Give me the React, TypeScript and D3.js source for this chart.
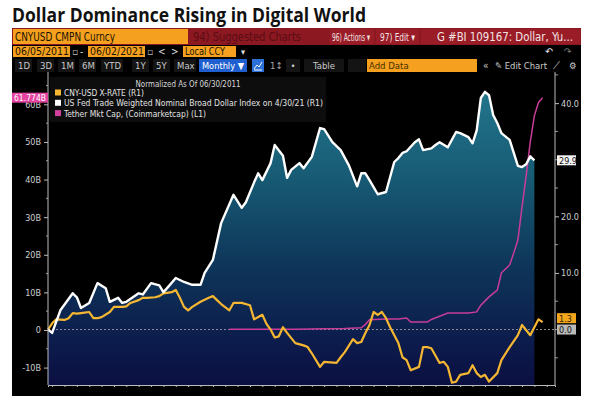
import React, { useRef, useEffect } from "react";
import * as d3 from "d3";

// US Fed trade weighted broad dollar index, % change since 06/30/2011 (R1)
const usdDates = [
  "2011-06", "2011-07", "2011-09", "2011-12", "2012-01", "2012-02", "2012-04", "2012-06",
  "2012-08", "2012-09", "2012-11", "2012-12", "2013-01", "2013-04", "2013-05", "2013-07",
  "2013-09", "2013-10", "2013-11", "2014-01", "2014-03", "2014-05", "2014-07", "2014-08",
  "2014-10", "2014-12", "2015-03", "2015-05", "2015-06", "2015-08", "2015-09", "2015-10",
  "2015-12", "2016-01", "2016-03", "2016-04", "2016-05", "2016-07", "2016-08", "2016-10",
  "2016-12", "2017-01", "2017-03", "2017-05", "2017-07", "2017-09", "2017-10", "2017-11",
  "2017-12", "2018-02", "2018-04", "2018-06", "2018-07", "2018-08", "2018-09", "2018-11",
  "2018-12", "2019-01", "2019-03", "2019-04", "2019-05", "2019-07", "2019-09", "2019-10",
  "2019-12", "2020-01", "2020-02", "2020-03", "2020-04", "2020-05", "2020-06", "2020-07",
  "2020-08", "2020-10", "2020-11", "2020-12", "2021-01", "2021-02", "2021-03", "2021-04",
];
const usdValues = [
  0.0, -0.6, 3.4, 6.4, 5.7, 3.8, 4.7, 8.2,
  7.3, 4.9, 5.6, 4.7, 4.9, 6.4, 6.2, 8.2,
  7.8, 6.6, 7.4, 9.1, 8.4, 7.9, 7.9, 10.0,
  12.3, 18.8, 23.8, 21.5, 22.5, 26.0, 27.6, 26.4,
  29.4, 32.6, 30.7, 26.8, 28.2, 29.4, 28.5, 30.5,
  35.6, 35.4, 33.1, 31.7, 29.0, 25.3, 27.6, 27.6,
  26.4, 23.9, 24.3, 29.6, 30.3, 31.2, 31.5, 33.1,
  33.6, 31.7, 32.0, 32.6, 33.1, 32.2, 34.9, 34.7,
  34.0, 32.9, 35.2, 40.9, 42.0, 41.4, 37.9, 36.5,
  34.7, 33.5, 31.2, 28.9, 28.7, 29.2, 30.6, 29.9,
];

// CNY-USD x-rate, % change since 06/30/2011 (R1)
const cnyDates = [
  "2011-06", "2011-07", "2011-08", "2011-10", "2011-11", "2011-12", "2012-01", "2012-02",
  "2012-04", "2012-05", "2012-06", "2012-07", "2012-09", "2012-10", "2012-12", "2013-01",
  "2013-02", "2013-04", "2013-05", "2013-06", "2013-08", "2013-09", "2013-10", "2013-12",
  "2014-01", "2014-02", "2014-03", "2014-04", "2014-05", "2014-07", "2014-09", "2014-10",
  "2014-11", "2014-12", "2015-02", "2015-03", "2015-05", "2015-07", "2015-08", "2015-09",
  "2015-10", "2015-11", "2015-12", "2016-01", "2016-02", "2016-03", "2016-04", "2016-06",
  "2016-08", "2016-09", "2016-10", "2016-12", "2017-01", "2017-04", "2017-05", "2017-06",
  "2017-08", "2017-09", "2017-10", "2017-11", "2017-12", "2018-01", "2018-02", "2018-03",
  "2018-04", "2018-05", "2018-07", "2018-08", "2018-09", "2018-10", "2018-12", "2019-01",
  "2019-02", "2019-03", "2019-05", "2019-06", "2019-07", "2019-08", "2019-09", "2019-10",
  "2019-12", "2020-01", "2020-02", "2020-03", "2020-04", "2020-05", "2020-07", "2020-08",
  "2020-10", "2020-12", "2021-01", "2021-03", "2021-04", "2021-05", "2021-06",
];
const cnyValues = [
  0.0, 1.1, 1.8, 1.7, 2.0, 2.9, 2.8, 2.9,
  3.1, 2.0, 2.0, 2.2, 3.1, 4.0, 4.0, 4.1,
  4.7, 5.2, 5.6, 5.6, 5.7, 5.9, 6.4, 6.6,
  7.0, 5.6, 4.0, 3.4, 4.0, 4.9, 5.6, 5.9,
  5.2, 4.5, 3.4, 4.7, 4.7, 4.3, 1.8, 2.2,
  2.6, 1.0, 0.0, -1.4, -1.2, 0.4, -0.6, -2.4,
  -2.8, -3.1, -4.2, -6.6, -5.7, -5.9, -4.9, -4.0,
  -1.7, -2.4, -2.2, -0.6, 0.8, 3.1, 2.6, 3.1,
  2.0, 0.4, -2.4, -4.9, -5.4, -7.2, -6.6, -3.1,
  -3.1, -3.3, -5.9, -5.7, -6.6, -9.4, -9.2, -8.0,
  -7.7, -6.3, -7.7, -8.4, -8.0, -9.2, -7.7, -5.4,
  -3.1, -1.0, 0.8, -1.0, 0.4, 1.8, 1.3,
];

// Tether market cap, billions USD (L1)
const tetherDates = [
  "2015-02", "2015-10", "2016-06", "2017-01", "2017-06", "2017-10", "2017-11", "2017-12",
  "2018-04", "2018-07", "2018-09", "2018-10", "2019-02", "2019-03", "2019-07", "2019-12",
  "2020-02", "2020-03", "2020-05", "2020-07", "2020-08", "2020-10", "2020-11", "2020-12",
  "2021-01", "2021-02", "2021-03", "2021-04", "2021-05", "2021-06",
];
const tetherValues = [
  0.2, 0.2, 0.2, 0.3, 0.4, 0.6, 1.5, 2.7,
  2.9, 2.9, 3.2, 2.1, 2.1, 2.8, 4.5, 4.5,
  4.8, 6.6, 8.8, 10.6, 15.2, 17.3, 20.5, 24.0,
  32.7, 41.0, 50.0, 57.0, 60.5, 61.774,
];

const leftTicks = [-10, 0, 10, 20, 30, 40, 50, 60];
const rightTicks = [10, 20, 40];
const legendLabels = [
  "CNY-USD X-RATE (R1)",
  "US Fed Trade Weighted Nominal Broad Dollar Index on 4/30/21 (R1)",
  "Tether Mkt Cap, (Coinmarketcap) (L1)",
];
const legendColors = ["#f5b731", "#ffffff", "#d2409e"];
const periodButtons = ["1D", "3D", "1M", "6M", "YTD", "1Y", "5Y", "Max"];

const monthIndex = (s: string) => {
  const [y, m] = s.split("-").map(Number);
  return (y - 2011) * 12 + (m - 6);
};

const width = 600;
const height = 396;
const UI = "'DejaVu Sans Condensed', 'Liberation Sans Narrow', 'Roboto', sans-serif";

const App = () => {
  const chartRef = useRef<HTMLDivElement>(null);

  useEffect(() => {
    const root = d3.select(chartRef.current);
    root.selectAll("*").remove();
    const svg = root
      .append("svg")
      .attr("width", width)
      .attr("height", height)
      .style("display", "block")
      .style("background", "#fff");

    // title
    svg
      .append("text")
      .attr("x", 12)
      .attr("y", 22)
      .attr("font-family", "'Open Sans', sans-serif")
      .attr("font-weight", 700)
      .attr("font-size", 19)
      .attr("textLength", 354)
      .attr("lengthAdjust", "spacingAndGlyphs")
      .attr("fill", "#111")
      .text("Dollar Dominance Rising in Digital World");

    // terminal panel
    svg.append("rect").attr("x", 12).attr("y", 28).attr("width", 569).attr("height", 368).attr("fill", "#000");

    const txt = (x: number, y: number, s: string, size: number, fill: string, len?: number, anchor = "start") => {
      const t = svg
        .append("text")
        .attr("x", x)
        .attr("y", y)
        .attr("font-family", UI)
        .attr("font-size", size)
        .attr("fill", fill)
        .attr("text-anchor", anchor)
        .text(s);
      if (len) t.attr("textLength", len).attr("lengthAdjust", "spacingAndGlyphs");
      return t;
    };
    const box = (x: number, y: number, w: number, h: number, fill: string) =>
      svg.append("rect").attr("x", x).attr("y", y).attr("width", w).attr("height", h).attr("fill", fill);

    // red header bar
    box(12, 28, 569, 17, "#8c1821");
    box(13, 29, 175, 15, "#f5a11f");
    txt(15, 41, "CNYUSD CMPN Curncy", 12, "#1b1200", 100);
    txt(193, 41, "94) Suggested Charts", 12, "#5a0d14", 108);
    box(330, 29, 44, 15, "#9a1c27");
    box(376, 29, 43, 15, "#9a1c27");
    box(421, 29, 159, 15, "#9a1c27");
    txt(332, 41, "96) Actions ▾", 11, "#f3e4e4", 38);
    txt(380, 41, "97) Edit ▾", 11, "#f3e4e4", 35);
    txt(437, 41, "G #BI 109167: Dollar, Yu...", 12, "#f3e4e4", 136);

    // date row
    box(13, 46, 57, 11, "#f5a11f");
    txt(15, 55, "06/05/2011", 11, "#1b1200", 54);
    txt(72, 55, "▫", 10, "#bbb");
    txt(80, 55, "-", 10, "#ddd");
    box(88, 46, 57, 11, "#f5a11f");
    txt(90, 55, "06/02/2021", 11, "#1b1200", 54);
    txt(147, 55, "▫", 10, "#bbb");
    txt(158, 55, "<", 10, "#ddd");
    txt(171, 55, ">", 10, "#ddd");
    box(183, 46, 53, 11, "#f5a11f");
    txt(185, 55, "Local CCY", 11, "#1b1200", 40);
    txt(241, 55, "▾", 9, "#ddd");
    txt(545, 55, "↶", 10, "#eee");
    txt(564, 55, "↷", 10, "#777");

    // toolbar row
    const btnX = [18, 40, 61, 82, 104, 135, 156, 177];
    periodButtons.forEach((b, i) => {
      box(btnX[i] - 3, 59, b.length > 2 ? 22 : 17, 13, "#141414");
      txt(btnX[i], 69, b, 9.5, "#c9c9c9");
    });
    box(199, 59, 48, 13, "#1f5fcf");
    txt(202, 69, "Monthly ▼", 9.5, "#fff", 42);
    box(252, 59, 12, 13, "#2b6fd8");
    svg
      .append("path")
      .attr("d", "M254,69 L257,65 L259,67 L262,62 M254,70 L262,70")
      .attr("fill", "none")
      .attr("stroke", "#fff")
      .attr("stroke-width", 1);
    txt(270, 69, "1↕", 9.5, "#aaa");
    box(286, 59, 14, 13, "#141414");
    txt(293, 69, "•", 9.5, "#ccc", undefined, "middle");
    box(304, 59, 40, 13, "#141414");
    txt(313, 69, "Table", 9.5, "#c9c9c9");
    box(348, 59, 18, 13, "#141414");
    box(367, 59, 110, 13, "#f5a11f");
    txt(369, 69, "Add Data", 9.5, "#4a3000");
    txt(483, 69, "«", 10, "#ccc");
    txt(495, 69, "✎ Edit Chart", 9.5, "#ccc", 52);
    txt(553, 69, "⟋", 9.5, "#ccc");
    txt(569, 69, "⚙", 9.5, "#ccc");

    // scales
    const x = d3.scaleLinear().domain([0, 123]).range([48, 555]);
    const yL = d3.scaleLinear().domain([-14.63, 68.6]).range([385, 72]);
    const yR = d3.scaleLinear().domain([-9.8, 45.5]).range([385, 72]);

    const usd = usdDates.map((d, i) => ({ m: monthIndex(d), v: usdValues[i] }));
    const cny = cnyDates.map((d, i) => ({ m: monthIndex(d), v: cnyValues[i] }));
    const tether = tetherDates.map((d, i) => ({ m: monthIndex(d), v: tetherValues[i] }));

    const defs = svg.append("defs");
    const grad = defs
      .append("linearGradient")
      .attr("id", "usdFill")
      .attr("gradientUnits", "userSpaceOnUse")
      .attr("x1", 0)
      .attr("x2", 0)
      .attr("y1", 90)
      .attr("y2", 385);
    [
      [0, "#22768c"],
      [0.3, "#175a74"],
      [0.6, "#0e3559"],
      [0.85, "#0c1c4c"],
      [1, "#0b0f42"],
    ].forEach(([o, c]) => grad.append("stop").attr("offset", o as number).attr("stop-color", c as string));

    // legend background
    box(50, 77, 276, 45, "#0d0d0d");

    // area under the dollar index
    const area = d3
      .area<{ m: number; v: number }>()
      .x((d) => x(d.m))
      .y0(385)
      .y1((d) => yR(d.v));
    svg.append("path").datum(usd).attr("d", area).attr("fill", "url(#usdFill)");

    // zero line
    svg
      .append("line")
      .attr("x1", 48)
      .attr("x2", 557)
      .attr("y1", yR(0))
      .attr("y2", yR(0))
      .attr("stroke", "#8c8c9a")
      .attr("stroke-width", 1)
      .attr("stroke-dasharray", "2,2");

    const line = d3
      .line<{ m: number; v: number }>()
      .x((d) => x(d.m))
      .y((d) => yR(d.v));
    const lineL = d3
      .line<{ m: number; v: number }>()
      .x((d) => x(d.m))
      .y((d) => yL(d.v));

    svg.append("path").datum(tether).attr("d", lineL).attr("fill", "none").attr("stroke", "#c93c9a").attr("stroke-width", 1.5);
    svg.append("path").datum(cny).attr("d", line).attr("fill", "none").attr("stroke", legendColors[0]).attr("stroke-width", 2.2).attr("stroke-linejoin", "round");
    svg.append("path").datum(usd).attr("d", line).attr("fill", "none").attr("stroke", legendColors[1]).attr("stroke-width", 2.4).attr("stroke-linejoin", "round");

    // left axis
    const leftAxis = d3
      .axisLeft(yL)
      .tickValues(leftTicks)
      .tickSize(4)
      .tickFormat((d) => (+d === 0 ? "0" : `${d}B`));
    const gL = svg.append("g").attr("transform", "translate(48,0)").call(leftAxis);
    gL.select(".domain").remove();
    gL.selectAll("line").attr("stroke", "#bbb");
    gL.selectAll("text").attr("fill", "#cfcfcf").attr("font-family", UI).attr("font-size", 9);
    svg
      .append("g")
      .selectAll("line")
      .data(d3.range(-5, 66, 10))
      .join("line")
      .attr("x1", 46)
      .attr("x2", 48)
      .attr("y1", (d) => yL(d))
      .attr("y2", (d) => yL(d))
      .attr("stroke", "#999");
    svg.append("line").attr("x1", 48).attr("x2", 48).attr("y1", 72).attr("y2", 385).attr("stroke", "#bbb");

    // right axis
    const rightAxis = d3
      .axisRight(yR)
      .tickValues(rightTicks)
      .tickSize(4)
      .tickFormat((d) => d3.format(".1f")(+d));
    const gR = svg.append("g").attr("transform", "translate(555,0)").call(rightAxis);
    gR.select(".domain").remove();
    gR.selectAll("line").attr("stroke", "#bbb");
    gR.selectAll("text").attr("fill", "#cfcfcf").attr("font-family", UI).attr("font-size", 9).attr("x", 6);
    svg
      .append("g")
      .selectAll("line")
      .data([-5, 0, 5, 15, 25, 30, 35, 45])
      .join("line")
      .attr("x1", 555)
      .attr("x2", 558)
      .attr("y1", (d) => yR(d))
      .attr("y2", (d) => yR(d))
      .attr("stroke", "#999");
    svg.append("line").attr("x1", 555).attr("x2", 555).attr("y1", 72).attr("y2", 385).attr("stroke", "#bbb");

    // bottom axis
    const bottomAxis = d3
      .axisBottom(x)
      .tickValues(d3.range(1, 123, 3))
      .tickSize(2)
      .tickFormat(() => "");
    const gB = svg.append("g").attr("transform", "translate(0,385)").call(bottomAxis);
    gB.select(".domain").attr("stroke", "#bbb");
    gB.selectAll("line").attr("stroke", "#bbb");

    // last value tags
    const tag = (xx: number, yy: number, w: number, fill: string, s: string, color: string) => {
      box(xx, yy - 5, w, 10, fill);
      txt(xx + 2, yy + 3.5, s, 9, color);
    };
    const lastUsd = usd[usd.length - 1];
    const lastCny = cny[cny.length - 1];
    const lastTether = tether[tether.length - 1];
    tag(557, yR(lastUsd.v), 19, "#f4f4f4", d3.format(".1f")(lastUsd.v), "#111");
    tag(557, yR(0), 19, "#b9b9b9", "0.0", "#111");
    tag(557, yR(lastCny.v) - 4, 19, "#f2a71d", d3.format(".1f")(lastCny.v), "#3a2500");
    box(12, yL(lastTether.v) - 5, 36, 10, "#e4439f");
    txt(14, yL(lastTether.v) + 3.5, d3.format(".3f")(lastTether.v) + "B", 9, "#fff", 32);

    // legend
    txt(188, 87, "Normalized As Of 06/30/2011", 9, "#d8d8d8", 105, "middle");
    legendLabels.forEach((l, i) => {
      const yy = 93 + i * 10.3;
      box(55, yy - 3.5, 6, 6, legendColors[i]);
      const lens = [80, 259, 142];
      txt(64, yy + 3, l, 9, "#e2e2e2", lens[i]);
    });
  }, []);

  return (
    <div style={{ position: "absolute", left: 0, top: 0 }}>
      <div ref={chartRef}></div>
    </div>
  );
};

export default App;
